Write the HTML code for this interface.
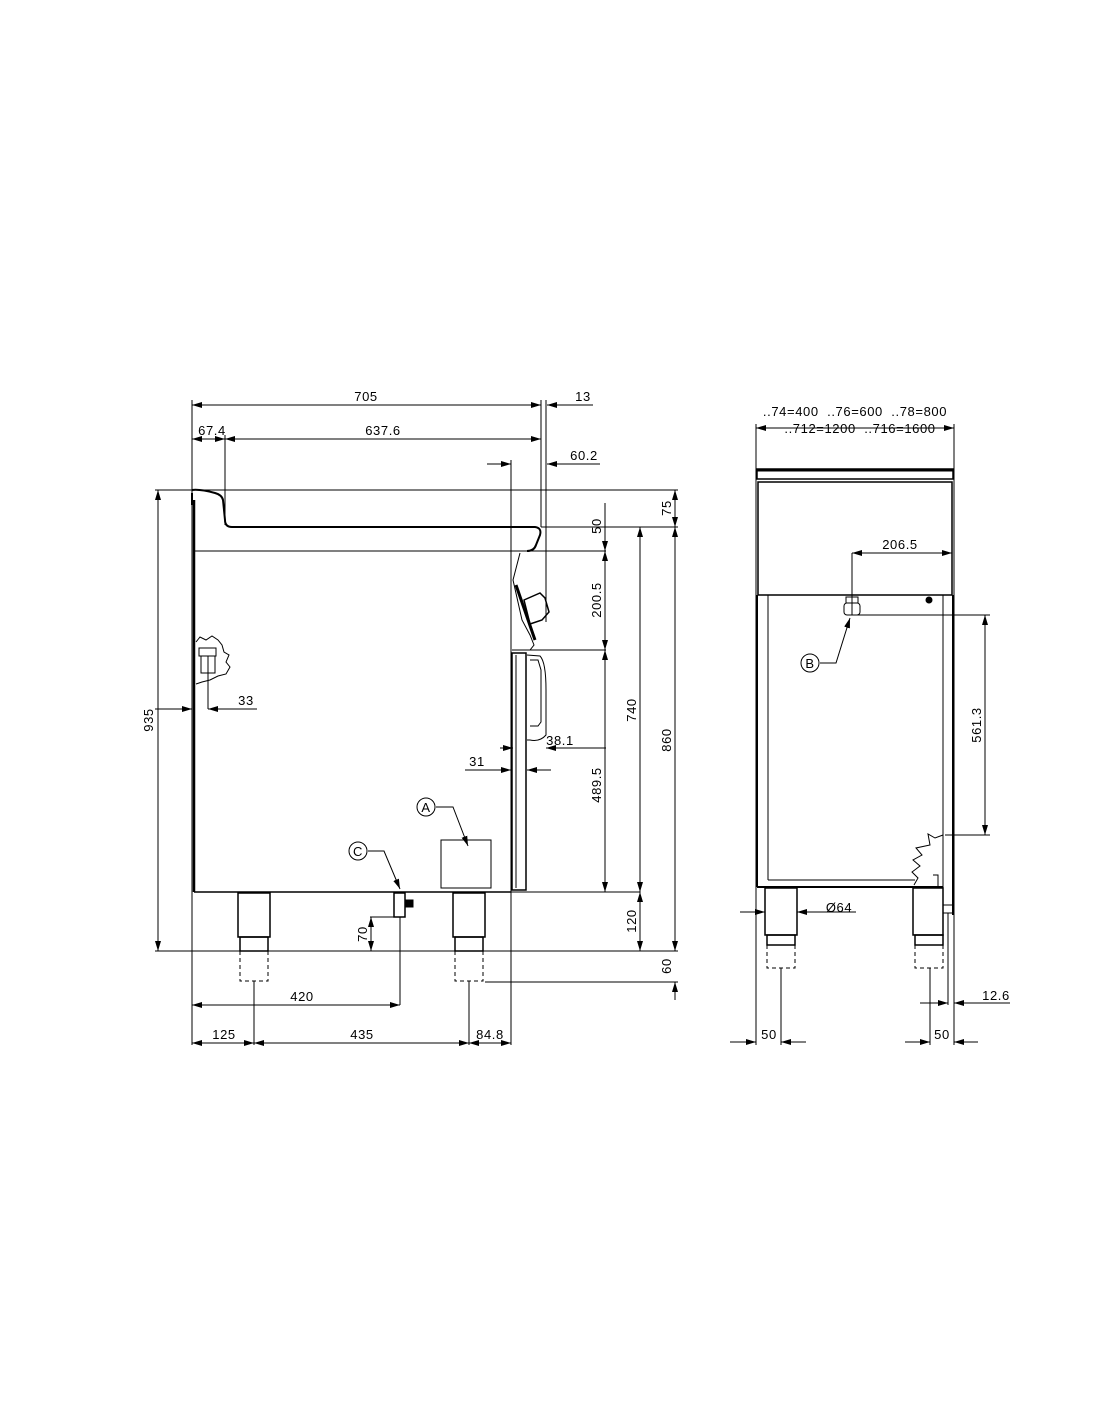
<!DOCTYPE html>
<html><head><meta charset="utf-8"><style>
html,body{margin:0;padding:0;background:#fff;}
svg{display:block;}
text{font-family:"Liberation Sans",sans-serif;font-size:13px;fill:#000;letter-spacing:0.6px;white-space:pre;}
</style></head><body>
<svg width="1100" height="1422" viewBox="0 0 1100 1422" xmlns="http://www.w3.org/2000/svg">
<defs>
<marker id="a" viewBox="0 0 10 6" refX="10" refY="3" markerWidth="10" markerHeight="6" orient="auto-start-reverse" markerUnits="userSpaceOnUse"><path d="M0,0 L10,3 L0,6 z" fill="#000"/></marker>
</defs>
<g stroke="#000" stroke-width="1" fill="none">
<line x1="192" y1="405" x2="541" y2="405" marker-start="url(#a)" marker-end="url(#a)"/>
<line x1="547" y1="405" x2="593" y2="405" marker-start="url(#a)"/>
<line x1="192" y1="439" x2="225" y2="439" marker-start="url(#a)" marker-end="url(#a)"/>
<line x1="225" y1="439" x2="541" y2="439" marker-start="url(#a)" marker-end="url(#a)"/>
<line x1="487" y1="464" x2="511" y2="464" marker-end="url(#a)"/>
<line x1="547" y1="464" x2="600" y2="464" marker-start="url(#a)"/>
<line x1="192" y1="400" x2="192" y2="1045"/>
<line x1="225" y1="435" x2="225" y2="525"/>
<line x1="541" y1="400" x2="541" y2="527"/>
<line x1="546" y1="400" x2="546" y2="622"/>
<line x1="511" y1="460" x2="511" y2="1045"/>
<line x1="155" y1="490" x2="678" y2="490"/>
<line x1="541" y1="527" x2="678" y2="527"/>
<line x1="527" y1="551" x2="606" y2="551"/>
<line x1="530" y1="650" x2="606" y2="650"/>
<line x1="511" y1="892" x2="640" y2="892"/>
<line x1="155" y1="951" x2="678" y2="951"/>
<line x1="485" y1="982" x2="678" y2="982"/>
<path d="M192,490 Q200,489 215,493 Q222,495 223,500 L225,520 Q225,527 232,527 L535,527 Q542,528 540,535 L536,545 Q534,551 527,551" stroke-width="2"/>
<line x1="193" y1="551" x2="527" y2="551"/>
<line x1="194" y1="500" x2="194" y2="892" stroke-width="2.5"/>
<path d="M192,493 L192,505" stroke-width="2"/>
<path d="M520,553 L513,580 L522,620 L530,635 L534,645 L530,650 L512,650"/>
<path d="M516,585 L535,640" stroke-width="3"/>
<path d="M524,600 L540,593 L545,598 L549,612 L542,620 L530,624 z" stroke-width="1.5"/>
<line x1="194" y1="892" x2="511" y2="892" stroke-width="1.5"/>
<rect x="512" y="653" width="14" height="237" stroke-width="1.5"/>
<line x1="516" y1="655" x2="516" y2="888"/>
<path d="M527,655 L540,656 Q546,662 546,690 L546,735 Q540,742 530,740 L527,740"/>
<path d="M530,660 L538,660 L541,670 L541,722 L538,726 L530,726"/>
<path d="M196,642 L200,637 L206,640 L212,636 L218,640 L222,645 L224,652 L229,655 L226,662 L230,667 L226,674 L218,676 L210,680 L202,682 L196,684"/>
<rect x="199" y="648" width="17" height="8"/>
<rect x="201" y="656" width="14" height="17"/>
<line x1="208" y1="656" x2="208" y2="709"/>
<line x1="155" y1="709" x2="192" y2="709" marker-end="url(#a)"/>
<line x1="208" y1="709" x2="257" y2="709" marker-start="url(#a)"/>
<line x1="500" y1="748" x2="513" y2="748" marker-end="url(#a)"/>
<line x1="546" y1="748" x2="606" y2="748" marker-start="url(#a)"/>
<line x1="465" y1="770" x2="511" y2="770" marker-end="url(#a)"/>
<line x1="527" y1="770" x2="551" y2="770" marker-start="url(#a)"/>
<line x1="158" y1="490" x2="158" y2="951" marker-start="url(#a)" marker-end="url(#a)"/>
<line x1="605" y1="503" x2="605" y2="551" marker-end="url(#a)"/>
<line x1="605" y1="551" x2="605" y2="650" marker-start="url(#a)" marker-end="url(#a)"/>
<line x1="605" y1="650" x2="605" y2="892" marker-start="url(#a)" marker-end="url(#a)"/>
<line x1="640" y1="527" x2="640" y2="892" marker-start="url(#a)" marker-end="url(#a)"/>
<line x1="640" y1="892" x2="640" y2="951" marker-start="url(#a)" marker-end="url(#a)"/>
<line x1="675" y1="490" x2="675" y2="527" marker-start="url(#a)" marker-end="url(#a)"/>
<line x1="675" y1="527" x2="675" y2="951" marker-start="url(#a)" marker-end="url(#a)"/>
<line x1="675" y1="982" x2="675" y2="1000" marker-start="url(#a)"/>
<rect x="238" y="893" width="32" height="44" stroke-width="1.5"/>
<rect x="240" y="937" width="28" height="14" stroke-width="1.5"/>
<rect x="240" y="951" width="28" height="30" stroke-dasharray="4,3"/>
<rect x="453" y="893" width="32" height="44" stroke-width="1.5"/>
<rect x="455" y="937" width="28" height="14" stroke-width="1.5"/>
<rect x="455" y="951" width="28" height="30" stroke-dasharray="4,3"/>
<rect x="441" y="840" width="50" height="48"/>
<circle cx="426" cy="807" r="9"/>
<path d="M436,807 L453,807 L468,846" marker-end="url(#a)"/>
<circle cx="358" cy="851" r="9"/>
<path d="M368,851 L384,851 L400,889" marker-end="url(#a)"/>
<rect x="394" y="893" width="11" height="24" stroke-width="1.5"/>
<rect x="405" y="900" width="8" height="7" fill="#000"/>
<line x1="370" y1="917" x2="402" y2="917"/>
<line x1="400" y1="917" x2="400" y2="1005"/>
<line x1="371" y1="917" x2="371" y2="951" marker-start="url(#a)" marker-end="url(#a)"/>
<line x1="192" y1="1005" x2="400" y2="1005" marker-start="url(#a)" marker-end="url(#a)"/>
<line x1="254" y1="981" x2="254" y2="1045"/>
<line x1="469" y1="981" x2="469" y2="1045"/>
<line x1="192" y1="1043" x2="254" y2="1043" marker-start="url(#a)" marker-end="url(#a)"/>
<line x1="254" y1="1043" x2="469" y2="1043" marker-start="url(#a)" marker-end="url(#a)"/>
<line x1="469" y1="1043" x2="511" y2="1043" marker-start="url(#a)" marker-end="url(#a)"/>

<line x1="756" y1="428" x2="954" y2="428" marker-start="url(#a)" marker-end="url(#a)"/>
<line x1="756" y1="424" x2="756" y2="1045"/>
<line x1="954" y1="424" x2="954" y2="1045"/>
<rect x="757" y="469" width="196" height="10" stroke-width="1.5"/>
<line x1="757" y1="470" x2="953" y2="470" stroke-width="3"/>
<rect x="758" y="482" width="194" height="113" stroke-width="1.5"/>
<line x1="757" y1="595" x2="757" y2="887" stroke-width="2"/>
<line x1="768" y1="595" x2="768" y2="880"/>
<line x1="943" y1="595" x2="943" y2="905"/>
<line x1="953" y1="595" x2="953" y2="915" stroke-width="2"/>
<line x1="943" y1="905" x2="953" y2="905"/>
<line x1="943" y1="913" x2="953" y2="913"/>
<line x1="768" y1="880" x2="915" y2="880"/>
<line x1="757" y1="887" x2="943" y2="887" stroke-width="2"/>
<path d="M943,835 L935,838 L928,834 L930,845 L916,848 L922,855 L913,860 L920,866 L912,872 L918,878 L914,885" />
<path d="M933,875 L938,875 L938,887"/>
<circle cx="929" cy="600" r="3" fill="#000"/>
<rect x="846" y="597" width="12" height="6"/>
<rect x="844" y="603" width="16" height="12" rx="3"/>
<line x1="852" y1="597" x2="852" y2="615"/>
<line x1="852" y1="553" x2="852" y2="597"/>
<line x1="852" y1="553" x2="952" y2="553" marker-start="url(#a)" marker-end="url(#a)"/>
<circle cx="810" cy="663" r="9"/>
<path d="M820,663 L836,663 L850,618" marker-end="url(#a)"/>
<line x1="857" y1="615" x2="990" y2="615"/>
<line x1="945" y1="835" x2="990" y2="835"/>
<line x1="985" y1="615" x2="985" y2="835" marker-start="url(#a)" marker-end="url(#a)"/>
<rect x="765" y="888" width="32" height="47" stroke-width="1.5"/>
<rect x="767" y="935" width="28" height="10" stroke-width="1.5"/>
<rect x="767" y="945" width="28" height="23" stroke-dasharray="4,3"/>
<rect x="913" y="888" width="30" height="47" stroke-width="1.5"/>
<rect x="915" y="935" width="28" height="10" stroke-width="1.5"/>
<rect x="915" y="945" width="28" height="23" stroke-dasharray="4,3"/>
<line x1="740" y1="912" x2="765" y2="912" marker-end="url(#a)"/>
<line x1="797" y1="912" x2="856" y2="912" marker-start="url(#a)"/>
<line x1="781" y1="968" x2="781" y2="1045"/>
<line x1="730" y1="1042" x2="756" y2="1042" marker-end="url(#a)"/>
<line x1="781" y1="1042" x2="806" y2="1042" marker-start="url(#a)"/>
<line x1="930" y1="968" x2="930" y2="1045"/>
<line x1="905" y1="1042" x2="930" y2="1042" marker-end="url(#a)"/>
<line x1="954" y1="1042" x2="978" y2="1042" marker-start="url(#a)"/>
<line x1="948" y1="913" x2="948" y2="1005"/>
<line x1="920" y1="1003" x2="948" y2="1003" marker-end="url(#a)"/>
<line x1="954" y1="1003" x2="1010" y2="1003" marker-start="url(#a)"/>
</g>
<g>
<text x="366" y="401" text-anchor="middle">705</text>
<text x="583" y="401" text-anchor="middle">13</text>
<text x="212" y="435" text-anchor="middle">67.4</text>
<text x="383" y="435" text-anchor="middle">637.6</text>
<text x="584" y="460" text-anchor="middle">60.2</text>
<text x="246" y="705" text-anchor="middle">33</text>
<text x="560" y="745" text-anchor="middle">38.1</text>
<text x="477" y="766" text-anchor="middle">31</text>
<text x="302" y="1001" text-anchor="middle">420</text>
<text x="224" y="1039" text-anchor="middle">125</text>
<text x="362" y="1039" text-anchor="middle">435</text>
<text x="490" y="1039" text-anchor="middle">84.8</text>
<text x="426" y="812" text-anchor="middle" font-size="11">A</text>
<text x="358" y="856" text-anchor="middle" font-size="11">C</text>
<text transform="translate(153,720) rotate(-90)" text-anchor="middle">935</text>
<text transform="translate(601,526) rotate(-90)" text-anchor="middle">50</text>
<text transform="translate(601,600) rotate(-90)" text-anchor="middle">200.5</text>
<text transform="translate(601,785) rotate(-90)" text-anchor="middle">489.5</text>
<text transform="translate(636,710) rotate(-90)" text-anchor="middle">740</text>
<text transform="translate(636,921) rotate(-90)" text-anchor="middle">120</text>
<text transform="translate(671,508) rotate(-90)" text-anchor="middle">75</text>
<text transform="translate(671,740) rotate(-90)" text-anchor="middle">860</text>
<text transform="translate(671,966) rotate(-90)" text-anchor="middle">60</text>
<text transform="translate(367,934) rotate(-90)" text-anchor="middle">70</text>
<text x="855" y="416" text-anchor="middle">..74=400  ..76=600  ..78=800</text>
<text x="860" y="433" text-anchor="middle">..712=1200  ..716=1600</text>
<text x="900" y="549" text-anchor="middle">206.5</text>
<text x="810" y="668" text-anchor="middle" font-size="11">B</text>
<text transform="translate(981,725) rotate(-90)" text-anchor="middle">561.3</text>
<text x="839" y="912" text-anchor="middle">Ø64</text>
<text x="769" y="1039" text-anchor="middle">50</text>
<text x="942" y="1039" text-anchor="middle">50</text>
<text x="996" y="1000" text-anchor="middle">12.6</text>
</g>
</svg>
</body></html>
